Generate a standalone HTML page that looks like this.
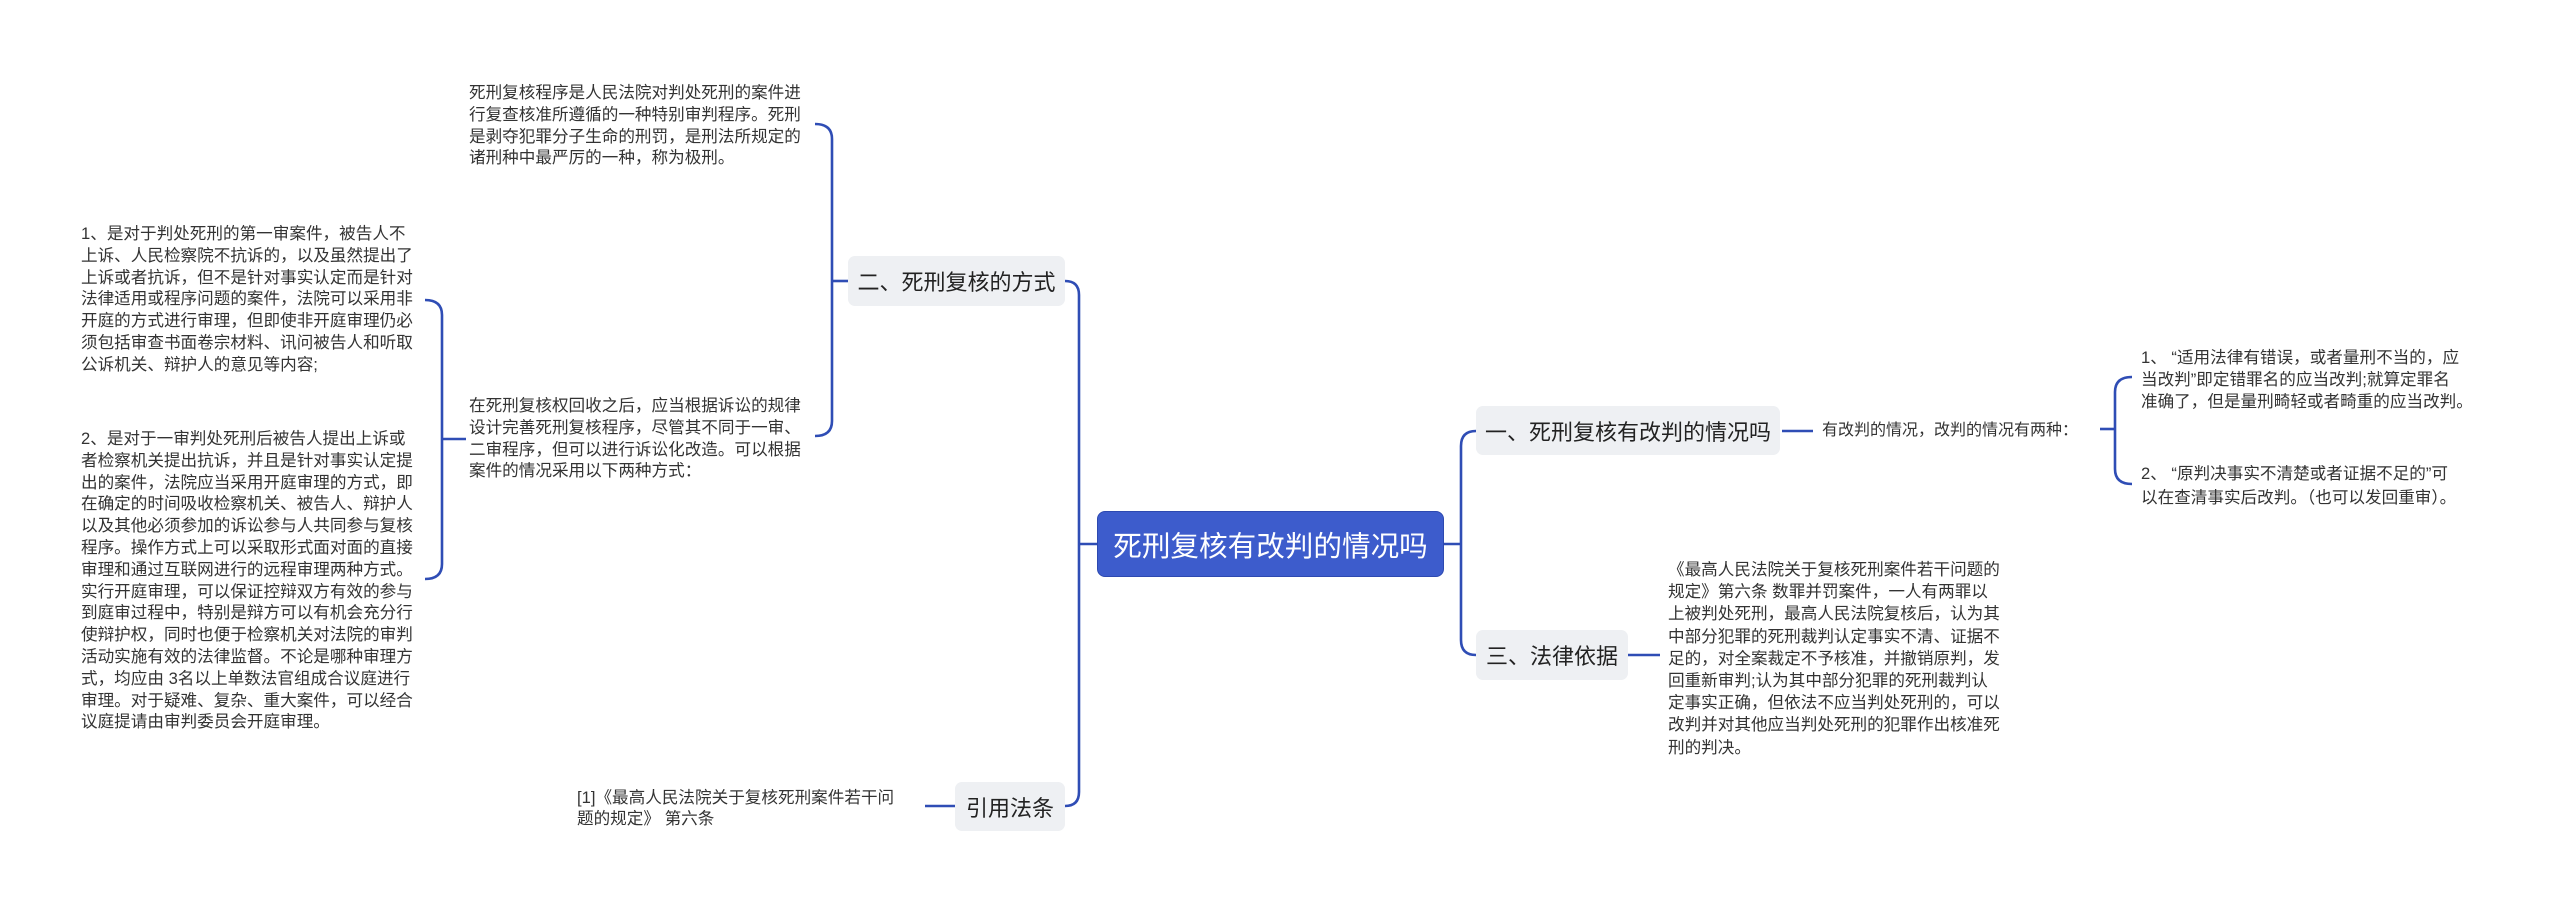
<!DOCTYPE html>
<html><head><meta charset="utf-8"><style>
html,body{margin:0;padding:0;background:#fff;}
body{width:2560px;height:910px;position:relative;overflow:hidden;font-family:"Liberation Sans","Noto Sans CJK SC",sans-serif;color:#333;}
.t{position:absolute;font-size:16.6px;line-height:21.8px;white-space:nowrap;}
.box{position:absolute;background:#eef0f3;border-radius:7px;font-size:22px;color:#222;display:flex;align-items:center;justify-content:center;white-space:nowrap;}
.root{position:absolute;left:1097px;top:511px;width:347px;height:66px;background:#3d5ccc;border:1px solid #2d49b0;box-sizing:border-box;border-radius:8px;color:#fff;font-size:28.6px;display:flex;align-items:center;justify-content:center;white-space:nowrap;}
svg{position:absolute;left:0;top:0;}
</style></head><body>
<svg width="2560" height="910" fill="none" stroke="#2f4db5" stroke-width="2.6">
<path d="M1065,281 Q1079,281 1079,295 L1079,792 Q1079,806 1065,806"/>
<path d="M1079,544 L1097,544"/>
<path d="M1444,544 L1461,544"/>
<path d="M1476,431 Q1461,431 1461,446 L1461,640 Q1461,655 1476,655"/>
<path d="M1782,431 L1813,431"/>
<path d="M1628,655 L1660,655"/>
<path d="M2100,429 L2115,429"/>
<path d="M2132,377 Q2115,377 2115,392 L2115,469 Q2115,484 2132,484"/>
<path d="M848,281 L832,281"/>
<path d="M815,124 Q832,124 832,139 L832,421 Q832,436 815,436"/>
<path d="M466,439 L442,439"/>
<path d="M425,300 Q442,300 442,315 L442,564 Q442,579 425,579"/>
<path d="M925,806 L955,806"/>
</svg>
<div class="root">死刑复核有改判的情况吗</div>
<div class="box" style="left:1476px;top:406px;width:304px;height:49px;">一、死刑复核有改判的情况吗</div>
<div class="box" style="left:1476px;top:630px;width:152px;height:50px;">三、法律依据</div>
<div class="box" style="left:848px;top:256px;width:217px;height:50px;">二、死刑复核的方式</div>
<div class="box" style="left:955px;top:782px;width:110px;height:49px;">引用法条</div>

<div class="t" style="left:1822px;top:420px;font-size:16px;">有改判的情况，改判的情况有两种：</div>
<div class="t" style="left:2141px;top:347px;">1、 “适用法律有错误，或者量刑不当的，应<br>当改判”即定错罪名的应当改判;就算定罪名<br>准确了，但是量刑畸轻或者畸重的应当改判。</div>
<div class="t" style="left:2141px;top:462px;line-height:24px;">2、 “原判决事实不清楚或者证据不足的”可<br>以在查清事实后改判。（也可以发回重审）。</div>
<div class="t" style="left:1668px;top:559px;line-height:22.2px;">《最高人民法院关于复核死刑案件若干问题的<br>规定》第六条 数罪并罚案件，一人有两罪以<br>上被判处死刑，最高人民法院复核后，认为其<br>中部分犯罪的死刑裁判认定事实不清、证据不<br>足的，对全案裁定不予核准，并撤销原判，发<br>回重新审判;认为其中部分犯罪的死刑裁判认<br>定事实正确，但依法不应当判处死刑的，可以<br>改判并对其他应当判处死刑的犯罪作出核准死<br>刑的判决。</div>

<div class="t" style="left:469px;top:82px;">死刑复核程序是人民法院对判处死刑的案件进<br>行复查核准所遵循的一种特别审判程序。死刑<br>是剥夺犯罪分子生命的刑罚，是刑法所规定的<br>诸刑种中最严厉的一种，称为极刑。</div>
<div class="t" style="left:469px;top:395px;">在死刑复核权回收之后，应当根据诉讼的规律<br>设计完善死刑复核程序，尽管其不同于一审、<br>二审程序，但可以进行诉讼化改造。可以根据<br>案件的情况采用以下两种方式：</div>
<div class="t" style="left:81px;top:223px;">1、是对于判处死刑的第一审案件，被告人不<br>上诉、人民检察院不抗诉的，以及虽然提出了<br>上诉或者抗诉，但不是针对事实认定而是针对<br>法律适用或程序问题的案件，法院可以采用非<br>开庭的方式进行审理，但即使非开庭审理仍必<br>须包括审查书面卷宗材料、讯问被告人和听取<br>公诉机关、辩护人的意见等内容;</div>
<div class="t" style="left:81px;top:428px;">2、是对于一审判处死刑后被告人提出上诉或<br>者检察机关提出抗诉，并且是针对事实认定提<br>出的案件，法院应当采用开庭审理的方式，即<br>在确定的时间吸收检察机关、被告人、辩护人<br>以及其他必须参加的诉讼参与人共同参与复核<br>程序。操作方式上可以采取形式面对面的直接<br>审理和通过互联网进行的远程审理两种方式。<br>实行开庭审理，可以保证控辩双方有效的参与<br>到庭审过程中，特别是辩方可以有机会充分行<br>使辩护权，同时也便于检察机关对法院的审判<br>活动实施有效的法律监督。不论是哪种审理方<br>式，均应由 3名以上单数法官组成合议庭进行<br>审理。对于疑难、复杂、重大案件，可以经合<br>议庭提请由审判委员会开庭审理。</div>
<div class="t" style="left:577px;top:787px;line-height:21px;">[1]《最高人民法院关于复核死刑案件若干问<br>题的规定》 第六条</div>
</body></html>
